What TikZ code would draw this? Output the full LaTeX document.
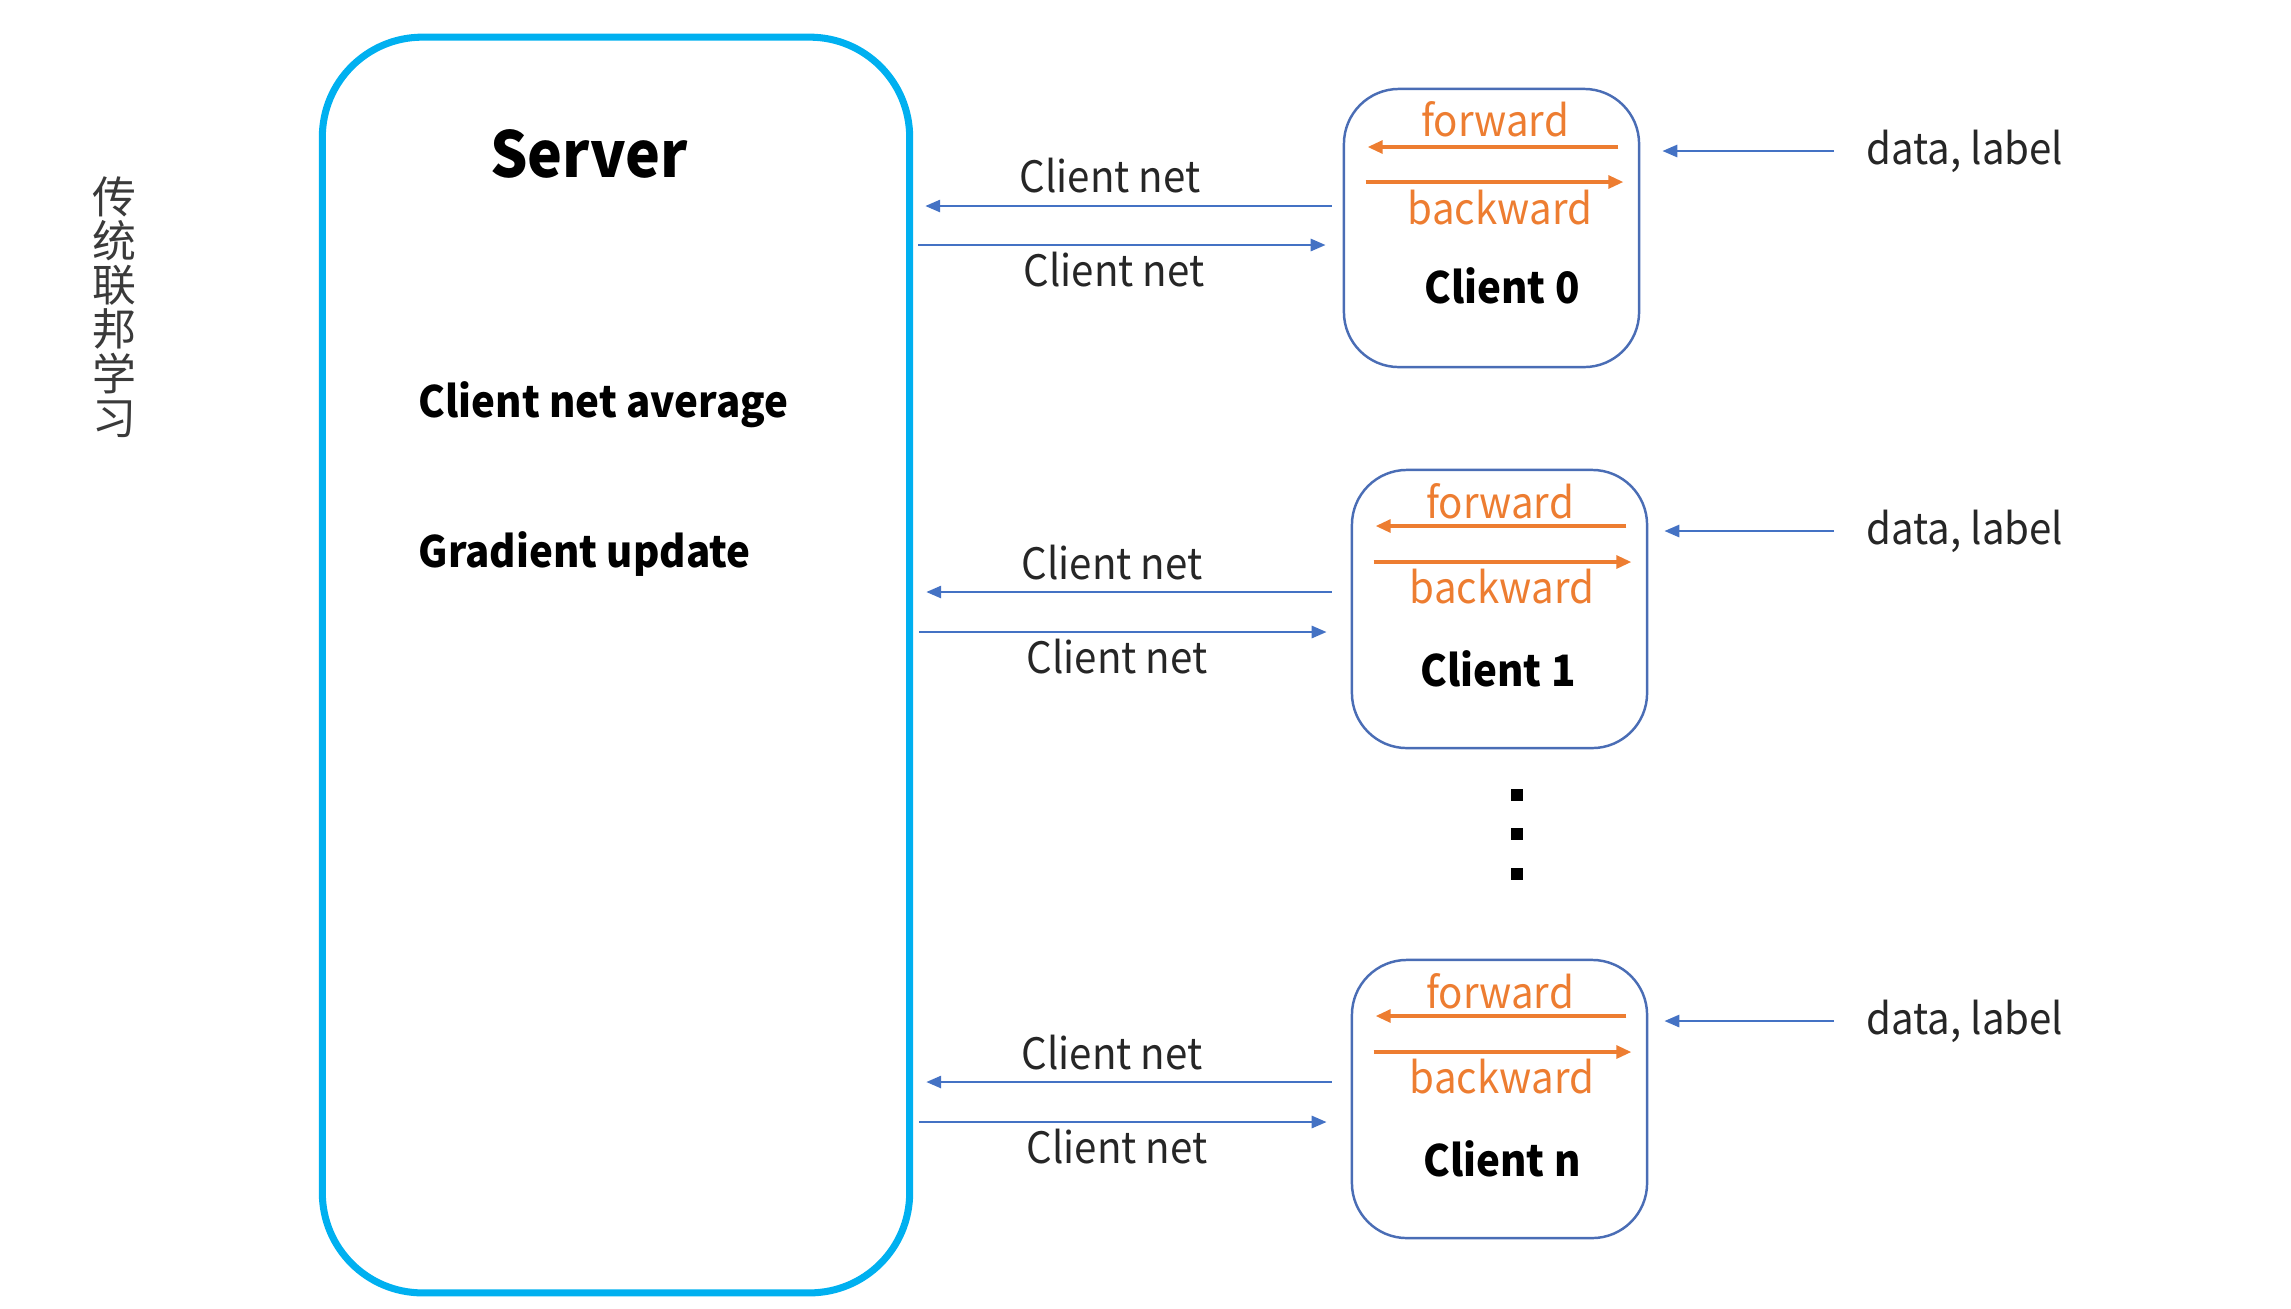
\documentclass[tikz,border=0pt]{standalone}
\usepackage{fontspec}
\setmainfont{Noto Sans CJK SC}[FakeStretch=0.93]
\newfontfamily\cjkfont{Noto Sans CJK SC}
\usetikzlibrary{arrows.meta}
\definecolor{srvcyan}{HTML}{00B0F0}
\definecolor{cliblue}{HTML}{4A6DB5}
\definecolor{arrblue}{HTML}{4472C4}
\definecolor{fwdorange}{HTML}{ED7D31}
\definecolor{txtgray}{HTML}{262626}
\definecolor{cjkgray}{HTML}{3A3A3A}
\tikzset{
  serverbox/.style={draw=srvcyan, line width=2pt, rounded corners=1cm, minimum width=5.87cm, minimum height=12.55cm, inner sep=0},
  clientbox/.style={draw=cliblue, line width=0.7pt, rounded corners=0.55cm, minimum width=2.95cm, minimum height=2.78cm, inner sep=0},
  plain/.style={inner sep=0, text=txtgray, font=\fontsize{12.3pt}{14pt}\selectfont},
  boldtxt/.style={inner sep=0, text=black, font=\fontsize{12.3pt}{14pt}\selectfont\bfseries},
  oranget/.style={inner sep=0, text=fwdorange, font=\fontsize{12.3pt}{14pt}\selectfont},
  barrow/.style={draw=arrblue, line width=0.8pt, -{Triangle[length=0.15cm,width=0.12cm]}},
  oarrow/.style={draw=fwdorange, line width=0.9pt, -{Triangle[length=0.15cm,width=0.13cm]}},
  dotsq/.style={fill=black, minimum size=0.12cm, inner sep=0}
}
\begin{document}
\begin{tikzpicture}[x=0.01cm, y=-0.01cm]
\useasboundingbox (0,0) rectangle (2291,1308);

% vertical Chinese title
\node[inner sep=0, text=cjkgray, align=center, font=\cjkfont\fontsize{12.5pt}{12.6pt}\selectfont] (title) at (114,307) {传\\统\\联\\邦\\学\\习};

% server
\node[serverbox] (srv) at (616,665) {};
\node[inner sep=0, font=\fontsize{18pt}{20pt}\selectfont\bfseries] (srvt) at (589,154) {Server};
\node[boldtxt, anchor=west] (avg) at (418,405) {Client net average};
\node[boldtxt, anchor=west] (grad) at (418,554) {Gradient update};

% clients
\node[clientbox] (c0) at (1491.5,228) {};
\node[clientbox] (c1) at (1499.5,609) {};
\node[clientbox] (cn) at (1499.5,1099) {};

% client 0
\node[oranget] (f0) at (1495,119) {forward};
\node[oranget] (b0) at (1500,208) {backward};
\node[boldtxt] (n0) at (1502,286) {Client 0};
\draw[oarrow, shorten <=0.22cm, shorten >=0.25cm] (c0.east |- 0,147) -- (c0.west |- 0,147);
\draw[oarrow, shorten <=0.23cm, shorten >=0.17cm] (c0.west |- 0,182) -- (c0.east |- 0,182);
\node[plain] (u0) at (1110,176) {Client net};
\node[plain] (l0) at (1114,270) {Client net};
\draw[barrow, shorten <=0.11cm, shorten >=0.12cm] (c0.west |- 0,206) -- (srv.east |- 0,206);
\draw[barrow, shorten <=0.05cm, shorten >=0.17cm] (srv.east |- 0,245) -- (c0.west |- 0,245);
\node[plain, anchor=west] (d0) at (1866,151) {data, label};
\draw[barrow, shorten <=0.32cm, shorten >=0.22cm] (d0.west) -- (c0.east |- d0.west);

% client 1
\node[oranget] (f1) at (1500,501) {forward};
\node[oranget] (b1) at (1502,587) {backward};
\node[boldtxt] (n1) at (1498,669) {Client 1};
\draw[oarrow, shorten <=0.22cm, shorten >=0.25cm] (c1.east |- 0,526) -- (c1.west |- 0,526);
\draw[oarrow, shorten <=0.23cm, shorten >=0.17cm] (c1.west |- 0,562) -- (c1.east |- 0,562);
\node[plain] (u1) at (1112,563) {Client net};
\node[plain] (l1) at (1117,657) {Client net};
\draw[barrow, shorten <=0.19cm, shorten >=0.13cm] (c1.west |- 0,592) -- (srv.east |- 0,592);
\draw[barrow, shorten <=0.06cm, shorten >=0.24cm] (srv.east |- 0,632) -- (c1.west |- 0,632);
\node[plain, anchor=west] (d1) at (1866,531) {data, label};
\draw[barrow, shorten <=0.32cm, shorten >=0.16cm] (d1.west) -- (c1.east |- d1.west);

% dots
\node[dotsq] (dot1) at (1517,795) {};
\node[dotsq] (dot2) at (1517,834) {};
\node[dotsq] (dot3) at (1517,874) {};

% client n
\node[oranget] (fn) at (1500,991) {forward};
\node[oranget] (bn) at (1502,1077) {backward};
\node[boldtxt] (nn) at (1502,1159) {Client n};
\draw[oarrow, shorten <=0.22cm, shorten >=0.25cm] (cn.east |- 0,1016) -- (cn.west |- 0,1016);
\draw[oarrow, shorten <=0.23cm, shorten >=0.17cm] (cn.west |- 0,1052) -- (cn.east |- 0,1052);
\node[plain] (un) at (1112,1053) {Client net};
\node[plain] (ln) at (1117,1147) {Client net};
\draw[barrow, shorten <=0.19cm, shorten >=0.13cm] (cn.west |- 0,1082) -- (srv.east |- 0,1082);
\draw[barrow, shorten <=0.06cm, shorten >=0.24cm] (srv.east |- 0,1122) -- (cn.west |- 0,1122);
\node[plain, anchor=west] (dn) at (1866,1021) {data, label};
\draw[barrow, shorten <=0.32cm, shorten >=0.16cm] (dn.west) -- (cn.east |- dn.west);
\end{tikzpicture}
\end{document}
